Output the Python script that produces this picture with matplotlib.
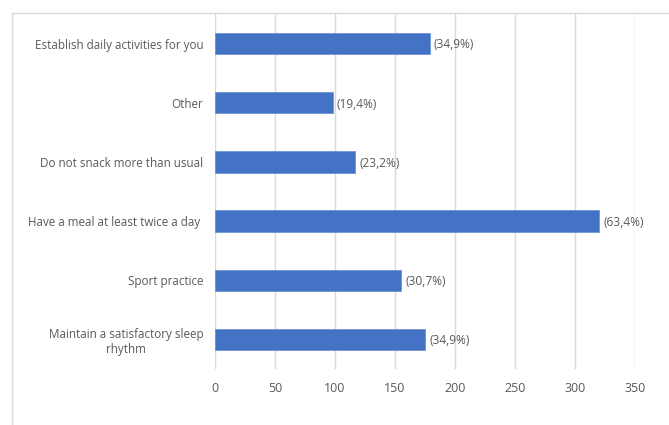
import matplotlib
matplotlib.use("Agg")
import matplotlib.pyplot as plt
from matplotlib.lines import Line2D
from matplotlib import font_manager

categories = [
    "Establish daily activities for you",
    "Other",
    "Do not snack more than usual",
    "Have a meal at least twice a day ",
    "Sport practice",
    "Maintain a satisfactory sleep\nrhythm",
]
values = [179, 98, 117, 320, 155, 175]
pct_labels = ["(34,9%)", "(19,4%)", "(23,2%)", "(63,4%)", "(30,7%)", "(34,9%)"]
xticks = [0, 50, 100, 150, 200, 250, 300, 350]

avail = {f.name for f in font_manager.fontManager.ttflist}
fams = [f for f in ["Liberation Sans Narrow", "Open Sans", "DejaVu Sans"] if f in avail]
plt.rcParams["font.family"] = fams

W, H = 669, 425
fig = plt.figure(figsize=(W / 100, H / 100), dpi=100)
ax = fig.add_axes([215 / W, 1 - 369 / H, 420 / W, 355 / H])

text_color = "#595959"
grid_color = "#D9D9D9"
bar_color = "#4472C4"

ypos = list(range(len(categories)))
ax.barh(ypos, values, height=0.36, color=bar_color, edgecolor="#6F93D3", linewidth=0.6, zorder=3)
ax.set_ylim(len(categories) - 0.5, -0.5)
ax.set_xlim(0, 350)
ax.set_xticks(xticks)
ax.set_xticklabels([str(t) for t in xticks])
ax.set_yticks(ypos)
ax.set_yticklabels(categories, multialignment="center")
ax.tick_params(axis="both", length=0, colors=text_color)
ax.tick_params(axis="y", pad=8.5, labelsize=8.4)
ax.tick_params(axis="x", pad=9, labelsize=9)
ax.grid(axis="x", color=grid_color, linewidth=1, zorder=0)
for s in ax.spines.values():
    s.set_visible(False)

for y, v, lab in zip(ypos, values, pct_labels):
    ax.annotate(lab, (v, y), xytext=(3, -1), textcoords="offset points",
                va="center", ha="left", fontsize=8.6, color=text_color)

fig.add_artist(Line2D([12 / W, 12 / W], [0, 1 - 13 / H], transform=fig.transFigure,
                      color=grid_color, linewidth=1))
fig.add_artist(Line2D([12 / W, 1], [1 - 13 / H, 1 - 13 / H], transform=fig.transFigure,
                      color=grid_color, linewidth=1))

fig.savefig("out.png", dpi=100)
